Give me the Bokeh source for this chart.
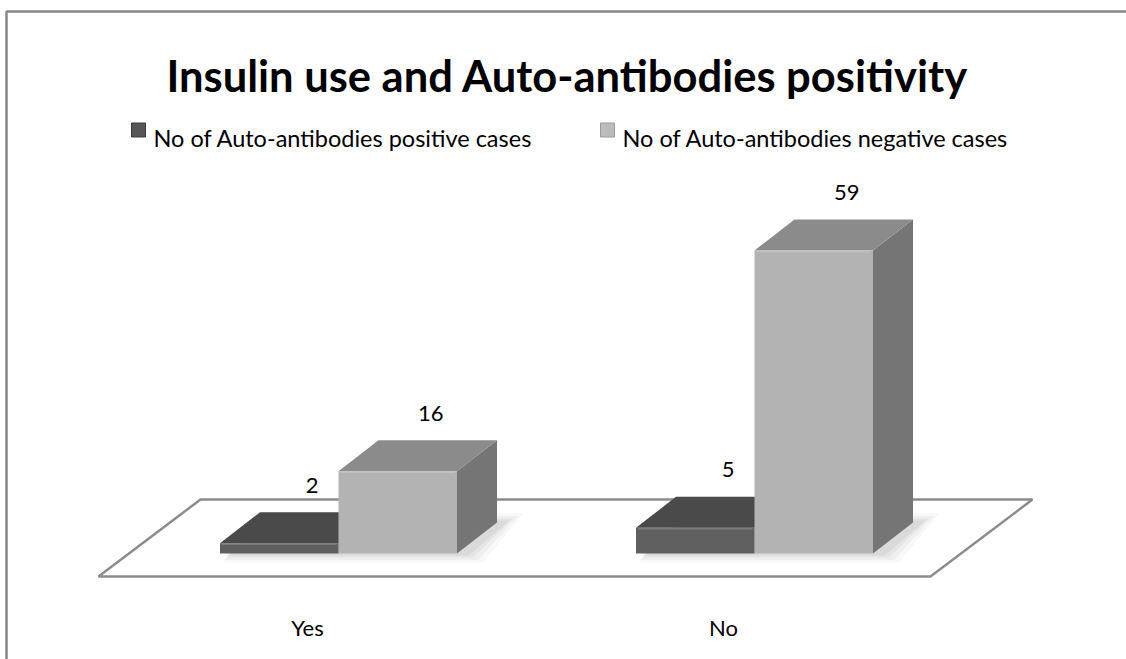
from bokeh.plotting import figure
from bokeh.models import Range1d
from bokeh.core.properties import value
from bokeh.embed import file_html
from bokeh.resources import INLINE

# ---------------- data ----------------
title = "Insulin use and Auto-antibodies positivity"
categories = ["Yes", "No"]
series_names = ["No of Auto-antibodies positive cases",
                "No of Auto-antibodies negative cases"]
positive = [2, 5]
negative = [16, 59]

# ---------------- layout constants ----------------
W, H = 1126, 659
PX_X = 416.0          # pixels per category step
X0_PX = 338.0         # pixel x of first category centre
PX_V = 5.136          # pixels per count
BASE_PX = 553.0       # pixel y of bar base (front)
FONT = "Lato"


def X(px):
    return 1 + (px - X0_PX) / PX_X


def Y(py):
    return (BASE_PX - py) / PX_V


def dX(px):
    return px / PX_X


def dY(py):
    return py / PX_V


p = figure(width=W, height=H, x_range=Range1d(X(0), X(W)), y_range=Range1d(Y(H), Y(0)),
           toolbar_location=None, output_backend="svg", min_border=0,
           x_axis_location=None, y_axis_location=None,
           outline_line_color=None, background_fill_color="white",
           border_fill_color="white")
p.xgrid.visible = False
p.ygrid.visible = False

xs = [1 + i for i in range(len(categories))]
BW = dX(118.5)
DX = dX(40)
DY = dY(31)

# outer chart border (only top and left visible)
p.line([X(6), X(6), X(W + 10)], [Y(H + 10), Y(11), Y(11)], line_color="#878787", line_width=2.5)

# floor
fl = xs[0] - dX(240)
fr = xs[-1] + dX(176)
fy0 = -dY(23)
fy1 = dY(54)
fdx = dX(102)
p.patch([fl, fr, fr + fdx, fl + fdx], [fy0, fy0, fy1, fy1],
        fill_color="white", line_color="#8c8c8c", line_width=2.5)

# soft shadows behind each group
for c, t in zip(xs, negative):
    l = c - BW
    r = c + BW
    for k, a in zip([18, 13, 8, 4], [0.04, 0.05, 0.06, 0.07]):
        ex = dX(k)
        ey = dY(k * 0.5)
        sx = dX(8)
        p.patch([l - ex * 0.3 + sx, r + ex + sx, r + DX + ex + sx, l + DX + sx],
                [-ey, -ey, DY + ey, DY + ey],
                fill_color="#555555", fill_alpha=a, line_color=None)


def bar(l, r, t, front, top, side):
    p.patch([r, r + DX, r + DX, r], [0, DY, t + DY, t], fill_color=side, line_color=None)
    p.patch([l, r, r + DX, l + DX], [t, t, t + DY, t + DY], fill_color=top, line_color=None)
    p.patch([l, r, r, l], [0, 0, t, t], fill_color=front, line_color=None)
    # subtle bevel highlight on the front top edge
    p.line([l + dX(2), r - dX(2)], [t - dY(1), t - dY(1)], line_color="white", line_alpha=0.18, line_width=1.5)


for c, pv, nv in zip(xs, positive, negative):
    bar(c - BW, c, pv, "#5f5f5f", "#4a4a4a", "#3e3e3e")
    bar(c, c + BW, nv, "#b3b3b3", "#8b8b8b", "#757575")

# data labels
lab_x, lab_y, lab_t = [], [], []
for c, pv, nv in zip(xs, positive, negative):
    for fc, v in [(c - BW / 2, pv), (c + BW / 2, nv)]:
        lab_x.append(fc + dX(33))
        lab_y.append(v + DY + dY(27))
        lab_t.append(str(v))
p.text(lab_x, lab_y, text=lab_t, text_align="center", text_baseline="alphabetic",
       text_font=value(FONT), text_font_size="22px", text_color="black")

# category labels
p.text([c - dX(31) for c in xs], [-dY(74)] * len(xs), text=categories,
       text_align="center", text_baseline="alphabetic",
       text_font=value(FONT), text_font_size="22px", text_color="black")

# title
p.text([X(567)], [Y(74)], text=[title], text_align="center", text_baseline="alphabetic",
       text_font=value(FONT), text_font_style="bold", text_font_size="43.5px", text_color="black")

# legend
leg_sq_x = [X(138), X(607)]
leg_txt_x = [X(153), X(622)]
leg_cols = ["#565656", "#bcbcbc"]
p.scatter(leg_sq_x, [Y(129.5)] * 2, marker="square", size=14, fill_color=leg_cols,
          line_color=["#3a3a3a", "#9a9a9a"], line_width=1)
p.text(leg_txt_x, [Y(137.5)] * 2, text=series_names, text_align="left", text_baseline="alphabetic",
       text_font=value(FONT), text_font_size="23.5px", text_color="black")

open("out.html", "w").write(file_html(p, INLINE))
